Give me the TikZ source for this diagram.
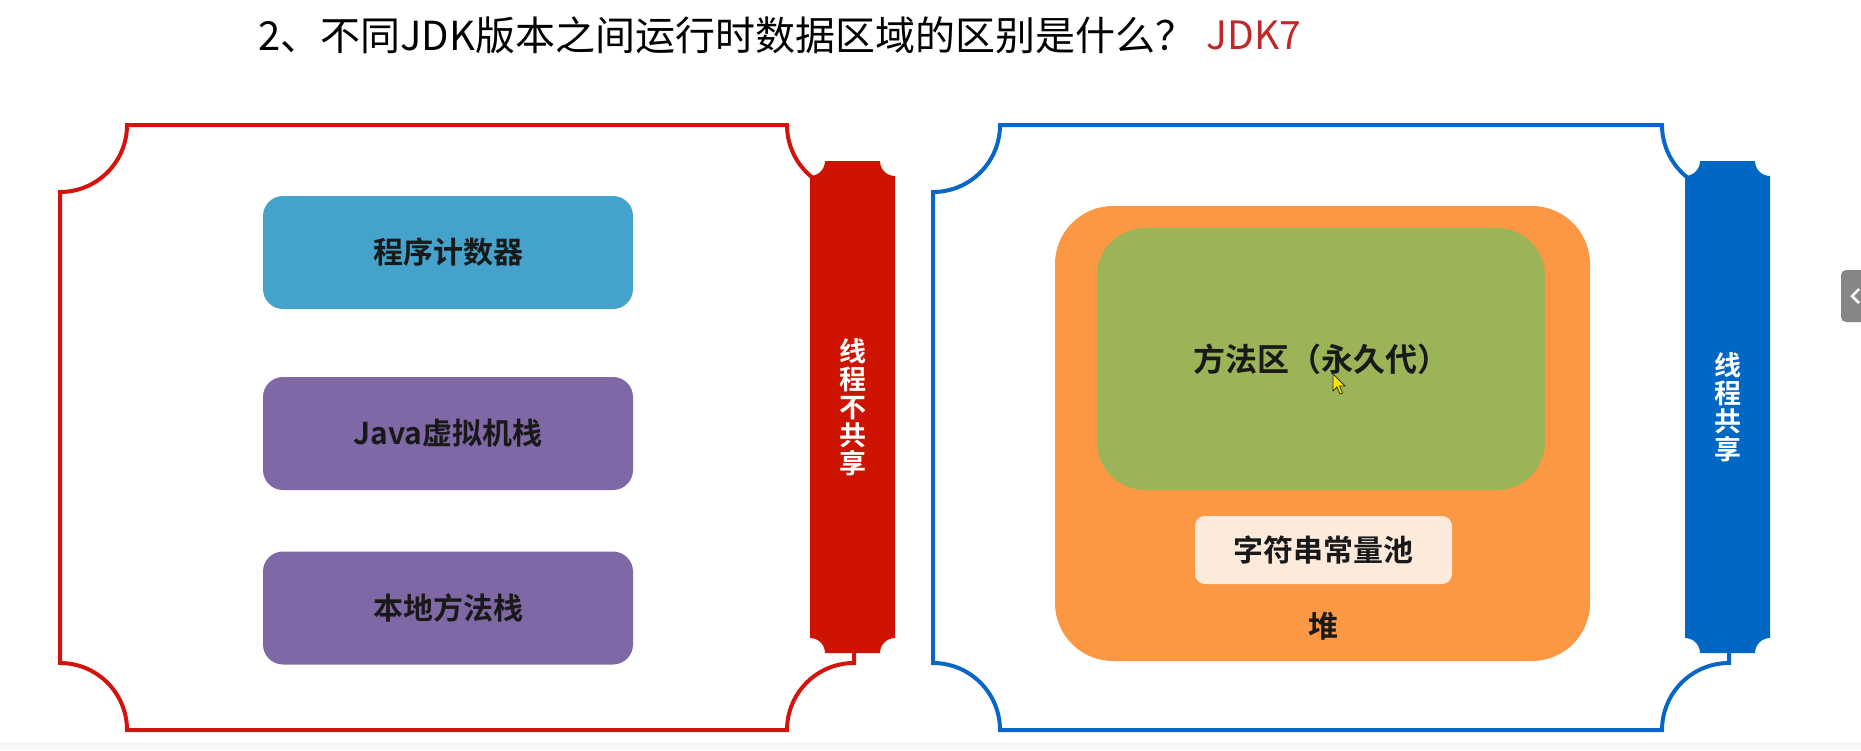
\documentclass[tikz,border=0pt]{standalone}
\usepackage{fontspec}
\setmainfont{Noto Sans CJK SC}[BoldFont={Noto Sans CJK SC Bold}]
\usetikzlibrary{positioning}

\definecolor{framered}{RGB}{212,18,14}
\definecolor{barred}{RGB}{206,20,0}
\definecolor{frameblue}{RGB}{8,102,200}
\definecolor{barblue}{RGB}{0,103,197}
\definecolor{pcblue}{RGB}{68,162,203}
\definecolor{stackpurple}{RGB}{128,104,166}
\definecolor{heaporange}{RGB}{252,152,68}
\definecolor{permgreen}{RGB}{155,180,88}
\definecolor{poolpeach}{RGB}{252,234,218}
\definecolor{titlered}{RGB}{190,40,40}

% rectangle with concave corners: x1 y1 x2 y2 radius
\newcommand{\notched}[5]{%
  ({#1+#5},#2) -- ({#3-#5},#2)
  arc[start angle=180, end angle=90, radius=#5]
  -- (#3,{#4-#5})
  arc[start angle=270, end angle=180, radius=#5]
  -- ({#1+#5},#4)
  arc[start angle=0, end angle=-90, radius=#5]
  -- (#1,{#2+#5})
  arc[start angle=90, end angle=0, radius=#5] -- cycle}

\tikzset{
  box/.style={rounded corners=20pt, minimum width=370pt, minimum height=113pt,
    font=\fontsize{30}{30}\selectfont\bfseries, text=black!90},
  boxtext/.style={font=\fontsize{30}{30}\selectfont\bfseries, text=black!90},
  bartext/.style={align=center, text=white, inner sep=0pt,
    font=\fontsize{27}{28}\selectfont\bfseries}
}

\begin{document}
\begin{tikzpicture}[x=1pt,y=-1pt]
\useasboundingbox (0,0) rectangle (1861,750);
\fill[gray!6] (0,742) rectangle (1861,750);

\node[anchor=west, inner sep=0pt, font=\fontsize{40}{40}\selectfont] (title) at (258,35)
  {2、不同JDK版本之间运行时数据区域的区别是什么？};
\node[right=11pt of title, inner sep=0pt, text=titlered, font=\fontsize{39}{39}\selectfont] (jdk) {JDK7};

\draw[framered, line width=4pt] \notched{60}{125}{854}{730}{67};
\fill[barred] \notched{810}{161}{895}{653}{15};
\node[bartext] (unshared) at (852.5,407) {线\\程\\不\\共\\享};

\node[box, fill=pcblue] (pc) at (448,252.5) {程序计数器};
\node[box, fill=stackpurple] (jvmstack) at (448,433.5) {Java虚拟机栈};
\node[box, fill=stackpurple] (nativestack) at (448,608) {本地方法栈};

\draw[frameblue, line width=4pt] \notched{933}{125}{1729}{730}{67};
\fill[barblue] \notched{1685}{161}{1770}{653}{15};
\node[bartext] (shared) at (1727.5,407) {线\\程\\共\\享};

\node[fill=heaporange, rounded corners=58pt, minimum width=535pt, minimum height=455pt] (heap) at (1322.5,433.5) {};
\node[fill=permgreen, rounded corners=48pt, minimum width=448pt, minimum height=262pt,
  boxtext, font=\fontsize{32}{32}\selectfont\bfseries] (methodarea) at (1321,359) {方法区（永久代）};
\node[fill=poolpeach, rounded corners=10pt, minimum width=257pt, minimum height=68pt, boxtext] (strpool) at (1323.5,550) {字符串常量池};
\node[boxtext] (heaplabel) at (1323,626) {堆};

\filldraw[fill=yellow!85!orange, draw=black!80, line width=0.8pt]
  (1333,374) -- (1333,391) -- (1337,387) -- (1340,394) -- (1342.5,393) -- (1339.5,386) -- (1345,386) -- cycle;

\fill[gray!95, rounded corners=5pt] (1841,270) rectangle (1875,322);
\draw[white, line width=2.5pt] (1859,289) -- (1852,296) -- (1859,303);

\end{tikzpicture}
\end{document}
